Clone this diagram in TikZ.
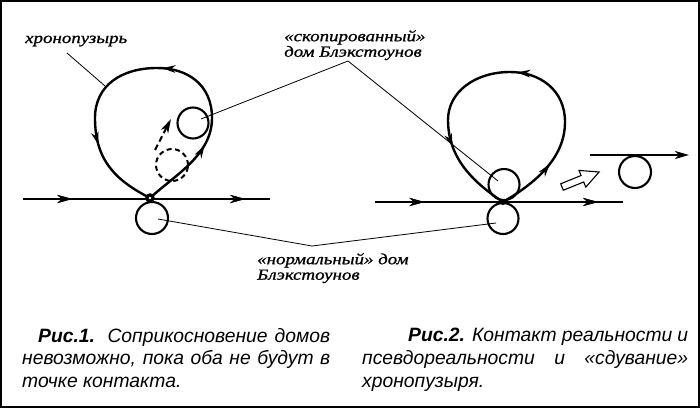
\documentclass[tikz,border=0pt]{standalone}
\usepackage{fontspec}
\usetikzlibrary{arrows.meta,decorations.markings}
\newfontfamily\labfont[FakeStretch=1.22,FakeBold=1]{Liberation Serif}
\newfontfamily\capfont{Liberation Sans}
\tikzset{
  loopline/.style={line width=2.4pt},
  timeline/.style={line width=2.4pt},
  house/.style={circle, draw, line width=2.1pt, minimum size=32pt, inner sep=0pt},
  ghost/.style={circle, draw, line width=2pt, minimum size=32pt, inner sep=0pt, dash pattern=on 5pt off 3.5pt},
  leader/.style={line width=0.8pt},
  labtext/.style={font=\labfont\itshape\fontsize{15.5}{15.5}\selectfont, inner sep=0pt, align=left},
  captext/.style={font=\capfont\itshape\fontsize{19.3}{22.7}\selectfont, inner sep=0pt, align=justify},
  endtip/.style={-{Stealth[length=14pt,width=8pt,inset=4pt]}},
  midtip/.style={decoration={markings, mark=at position #1 with {\arrow{Stealth[length=15pt,width=8pt,inset=4.5pt]}}}, postaction=decorate},
  looptips/.style n args={3}{decoration={markings,
    mark=at position #1 with {\arrow{Stealth[length=13pt,width=7.5pt,inset=4pt]}},
    mark=at position #2 with {\arrow{Stealth[length=13pt,width=7.5pt,inset=4pt]}},
    mark=at position #3 with {\arrow{Stealth[length=13pt,width=7.5pt,inset=4pt]}}},
    postaction=decorate}
}
\begin{document}
\begin{tikzpicture}[x=1pt,y=-1pt]
\useasboundingbox (0,0) rectangle (700,408);
\draw[line width=2.2pt] (1,1) rectangle (699,407);

% ---------- Fig. 1 ----------
\coordinate (t1a) at (23,199);
\coordinate (t1b) at (270,199);
\coordinate (k1) at (150,198);
\draw[timeline, midtip=0.2, midtip=0.9] (t1a) -- (t1b);
\draw[loopline, looptips={0.2}{0.48}{0.8}]
  (k1) .. controls (175,175) and (212,155) .. (212,118)
       .. controls (212,85) and (188,68) .. (157,68)
       .. controls (122,68) and (95,85) .. (95,118)
       .. controls (95,160) and (115,180) .. (k1);
\fill (k1) circle (4.8);
\fill[white] (k1) circle (1.4);
\node[house, minimum size=31pt] (c1) at (193,123) {};
\node[ghost] (g1) at (172,165) {};
\node[house] (n1) at (152,218) {};
\coordinate (d1) at (155,150);
\coordinate (d2) at (171,119);
\draw[line width=2pt, dash pattern=on 6pt off 3.5pt, endtip] (d1) -- (d2);

% ---------- Fig. 2 ----------
\coordinate (t2a) at (375,202);
\coordinate (t2b) at (623,202);
\coordinate (k2) at (503,202);
\draw[timeline, midtip=0.2, midtip=0.9] (t2a) -- (t2b);
\draw[loopline, looptips={0.16}{0.48}{0.8}]
  (k2) .. controls (532,185) and (565,160) .. (565,122)
       .. controls (565,90) and (540,72) .. (510,72)
       .. controls (475,72) and (448,92) .. (448,120)
       .. controls (448,160) and (476,184) .. (k2);
\fill (k2) circle (3);
\node[house, minimum size=31pt] (c2) at (504,184.5) {};
\node[house, minimum size=31pt] (n2) at (503,218.5) {};
\coordinate (u1) at (590,155);
\coordinate (u2) at (689,155);
\draw[timeline, endtip] (u1) -- (u2);
\node[house] (f2) at (635,172) {};
\draw[line width=1.1pt, line join=miter]
  (563.3,190.2) -- (560.7,183.8) -- (581.1,175.5) -- (579.0,170.4)
  -- (599.1,172.0) -- (585.8,187.1) -- (583.7,182.0) -- cycle;

% ---------- labels ----------
\node[labtext, anchor=base west] (lchr) at (25,43) {хронопузырь};
\node[labtext, anchor=north west] (lcop) at (284,30) {«скопированный»\\дом Блэкстоунов};
\node[labtext, anchor=north west] (lnor) at (257,253) {«нормальный» дом\\Блэкстоунов};

\coordinate (hchr) at (67,53);
\coordinate (hcop) at (348,61);
\coordinate (hnor) at (312,246);
\draw[leader] (hchr) -- (105,86);
\draw[leader] (hcop) -- (201,119);
\draw[leader] (hcop) -- (498,181);
\draw[leader] (n1.center) ++(6,1) -- (hnor);
\draw[leader] (hnor) -- (496,223);

% ---------- captions ----------
\node[captext, anchor=north west, text width=308pt] (cap1) at (22,328)
  {\hspace*{16pt}{\bfseries Рис.1.} Соприкосновение домов\linebreak
   невозможно, пока оба не будут в\linebreak точке контакта.};
\node[captext, anchor=north west, text width=326pt] (cap2) at (362,328)
  {\hspace*{46pt}{\bfseries Рис.2.} Контакт реальности и\linebreak
   псевдореальности и «сдувание»\linebreak хронопузыря.};
\end{tikzpicture}
\end{document}
